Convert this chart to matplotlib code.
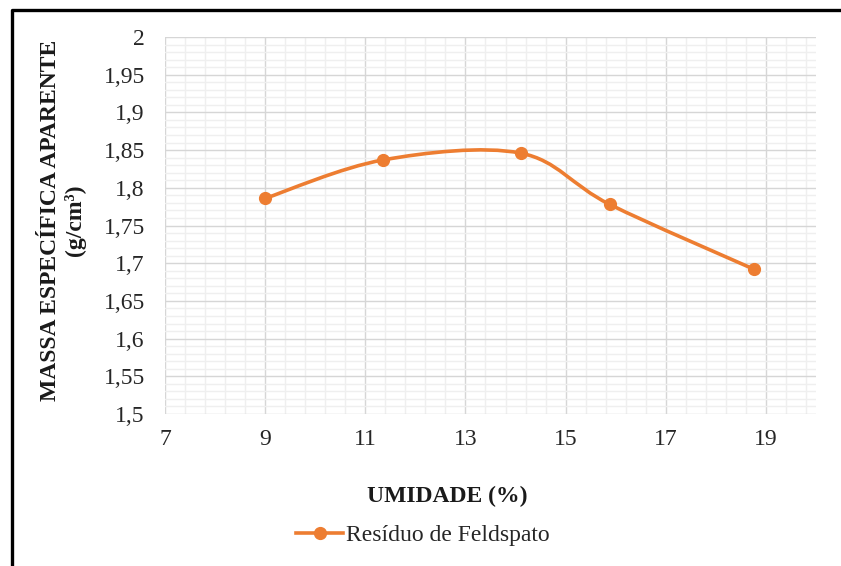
import numpy as np
import matplotlib.pyplot as plt
from matplotlib.path import Path
from matplotlib.patches import PathPatch
from matplotlib.lines import Line2D
from matplotlib.ticker import MultipleLocator, FixedLocator, FuncFormatter

plt.rcParams['font.family'] = ['Liberation Serif', 'DejaVu Serif']

umidade = [9.0, 11.36, 14.1, 15.88, 18.76]
massa = [1.786, 1.837, 1.846, 1.778, 1.692]
serie = 'Resíduo de Feldspato'
laranja = '#ED7D31'

fig = plt.figure(figsize=(8.41, 5.66), dpi=100)
ax = fig.add_axes([165/841, 1-414/566, 651/841, 377/566])
ax.set_xlim(7, 20)
ax.set_ylim(1.5, 2.0)

# grade principal e secundaria
ax.xaxis.set_major_locator(FixedLocator(np.arange(7, 20, 2)))
ax.xaxis.set_minor_locator(FixedLocator(np.arange(7, 19.9, 0.4)))
ax.yaxis.set_major_locator(MultipleLocator(0.05))
ax.yaxis.set_minor_locator(MultipleLocator(0.01))
ax.grid(which='minor', color='#EFEFEF', lw=1.0, zorder=0)
ax.grid(which='major', color='#D6D6D6', lw=1.0, zorder=0)
ax.set_axisbelow(True)
for s in ax.spines.values():
    s.set_visible(False)
ax.tick_params(which='both', length=0)
ax.tick_params(axis='both', labelsize=17, colors='#262626')
ax.tick_params(axis='y', pad=14.5)
ax.tick_params(axis='x', pad=11)
ax.yaxis.set_major_formatter(FuncFormatter(lambda v, p: ('%g' % round(v, 2)).replace('.', ',')))
ax.xaxis.set_major_formatter(FuncFormatter(lambda v, p: '%d' % v))

# linha suavizada (bezier estilo Excel)
pts = np.column_stack([umidade, massa])
ext = np.vstack([pts[0], pts, pts[-1]])
verts = [pts[0]]
codes = [Path.MOVETO]
for i in range(len(pts) - 1):
    p0, p1, p2, p3 = ext[i], ext[i+1], ext[i+2], ext[i+3]
    c1 = p1 + (p2 - p0) / 6
    c2 = p2 - (p3 - p1) / 6
    verts += [c1, c2, p2]
    codes += [Path.CURVE4] * 3
ax.add_patch(PathPatch(Path(verts, codes), fill=False, ec=laranja, lw=2.6,
                       capstyle='round', joinstyle='round', zorder=3))
ax.plot(umidade, massa, ls='none', marker='o', ms=8.5, color=laranja, zorder=4)

fig.text(447/841, 1-496/566, 'UMIDADE (%)', ha='center', va='center',
         fontsize=17, fontweight='bold', color='#1a1a1a')
fig.text(63/841, 1-220/566, 'MASSA ESPECÍFICA APARENTE\n(g/cm³)', rotation=90,
         ha='center', va='center', multialignment='center', linespacing=1.2,
         fontsize=17, fontweight='bold', color='#1a1a1a')

h = Line2D([], [], color=laranja, lw=2.6, marker='o', ms=8.5)
fig.legend([h], [serie], loc='center', bbox_to_anchor=(423/841, 1-535/566),
           frameon=False, fontsize=17, handlelength=2.0, handletextpad=0.12,
           labelcolor='#262626')

# moldura
fig.add_artist(Line2D([12/841, 12/841, 1], [0, 1-10/566, 1-10/566],
                      transform=fig.transFigure, color='black', lw=2.4))

fig.savefig('out.png', dpi=100)
